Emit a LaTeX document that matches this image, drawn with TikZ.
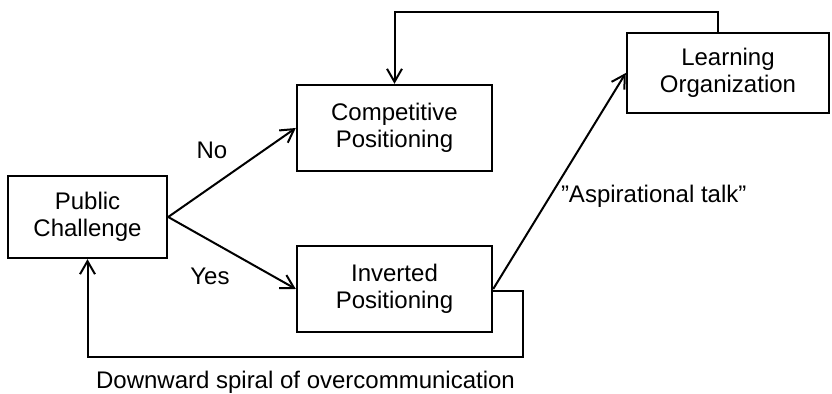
\documentclass[tikz,border=0pt]{standalone}
\usepackage{fontspec}
\setmainfont{Liberation Sans}
\usetikzlibrary{arrows.meta,positioning}
\tikzset{
  >={Straight Barb[length=6.5pt,width=7.5pt,line width=1pt]},
  box/.style={draw,line width=1.2pt,align=center,inner sep=0pt,
    font=\fontsize{12}{13.5}\selectfont},
  lbl/.style={font=\fontsize{12}{14}\selectfont,inner sep=0pt},
}
\begin{document}
\begin{tikzpicture}[x=0.5pt,y=-0.5pt,line width=1pt]
  \useasboundingbox (0,0) rectangle (832,394);

  \node[box,minimum width=79.5pt,minimum height=41pt] (pc) at (87.5,217)
       {Public\\Challenge};
  \node[box,minimum width=97.5pt,minimum height=43pt] (cp) at (394.5,128)
       {Competitive\\Positioning};
  \node[box,minimum width=97.5pt,minimum height=43pt] (ip) at (394.5,289)
       {Inverted\\Positioning};
  \node[box,minimum width=101pt,minimum height=40pt] (lo) at (728,73)
       {Learning\\Organization};

  \coordinate (top) at (718,12);
  \coordinate (bot) at (523,357);

  \draw[->] (pc.east) -- (cp.west);
  \draw[->] (pc.east) -- (ip.west);
  \draw[->] (ip.east) -- (lo.west);
  \draw[->] (lo.north -| top) -- (top) -| (cp.north);
  \draw[->] ([yshift=-1pt]ip.east) -| (bot) -| (pc.south);

  \node[lbl] (no) at (212,150) {No};
  \node[lbl] (yes) at (210,276) {Yes};
  \node[lbl,anchor=west] (asp) at (560,196) {”Aspirational talk”};
  \node[lbl] (down) at (305.5,382) {Downward spiral of overcommunication};
\end{tikzpicture}
\end{document}
